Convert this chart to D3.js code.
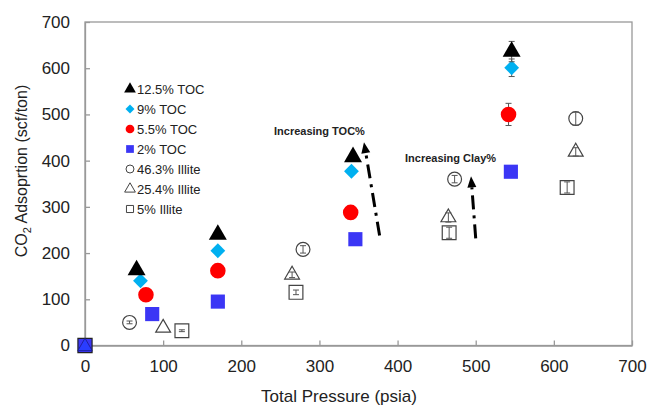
<!DOCTYPE html>
<html>
<head>
<meta charset="utf-8">
<script src="https://cdn.jsdelivr.net/npm/d3@7"></script>
<style>
  body { margin: 0; background: #fff; }
  text { font-family: "Liberation Sans", Arial, sans-serif; fill: #222; }
</style>
</head>
<body>
<svg id="chart" width="649" height="406"></svg>
<script>
// pressure (psia) / adsorption (scf/ton) per sample
var toc125X = [0, 66, 170, 343, 546];
var toc125Y = [0, 163, 240, 408, 636];
var toc125Err = [0, 0, 0, 0, 22];
var toc9X = [71, 170, 341, 546];
var toc9Y = [140, 205, 377, 601];
var toc9Err = [0, 0, 0, 19];
var toc55X = [78, 170, 340, 542];
var toc55Y = [110, 162, 288, 500];
var toc55Err = [0, 0, 0, 24];
var toc2X = [0, 86, 170, 346, 545];
var toc2Y = [0, 68, 95, 230, 376];
var illite463X = [57, 279, 473, 628];
var illite463Y = [50, 208, 360, 491];
var illite463Err = [3, 8, 8, 14];
var illite254X = [100, 265, 465, 628];
var illite254Y = [38, 153, 277, 419];
var illite254Err = [0, 6, 10, 9];
var illite5X = [124, 270, 466, 617];
var illite5Y = [32, 115, 244, 342];
var illite5Err = [2, 5, 12, 12];

var xTicks = [0, 100, 200, 300, 400, 500, 600, 700];
var yTicks = [0, 100, 200, 300, 400, 500, 600, 700];

// arrows: [x1, y1, x2, y2] in data units, tail to head
var tocArrow = [377, 238, 357, 440];
var clayArrow = [500, 232, 494, 366];

var svg = d3.select("#chart");
var x = d3.scaleLinear().domain([0, 700]).range([85, 632]);
var y = d3.scaleLinear().domain([0, 700]).range([345.5, 22]);

// square turned 45 degrees, like the spreadsheet diamond marker
var diamond = {
  draw: function(ctx, size) {
    var r = Math.sqrt(size / 2);
    ctx.moveTo(0, -r); ctx.lineTo(r, 0); ctx.lineTo(0, r); ctx.lineTo(-r, 0); ctx.closePath();
  }
};

// frame
svg.append("rect")
    .attr("x", 85).attr("y", 22)
    .attr("width", 547).attr("height", 323.5)
    .attr("fill", "none").attr("stroke", "#999").attr("stroke-width", 1.3);

var xAxis = svg.append("g").attr("transform", "translate(0,345.5)")
    .call(d3.axisBottom(x).tickValues(xTicks).tickSizeInner(-5).tickSizeOuter(0).tickPadding(14));
var yAxis = svg.append("g").attr("transform", "translate(85,0)")
    .call(d3.axisLeft(y).tickValues(yTicks).tickSizeInner(-5).tickSizeOuter(0).tickPadding(15));
[xAxis, yAxis].forEach(function(a) {
  a.select(".domain").attr("stroke", "#999").attr("stroke-width", 1.3);
  a.selectAll(".tick line").attr("stroke", "#999").attr("stroke-width", 1.3);
  a.selectAll(".tick text").attr("font-size", 17).attr("fill", "#222")
    .attr("font-family", "Liberation Sans, Arial, sans-serif");
});

svg.append("text").attr("x", 339).attr("y", 402)
    .attr("text-anchor", "middle").attr("font-size", 17)
    .text("Total Pressure (psia)");

var yt = svg.append("text")
    .attr("transform", "translate(27,171) rotate(-90)")
    .attr("text-anchor", "middle").attr("font-size", 16);
yt.append("tspan").text("CO");
yt.append("tspan").attr("font-size", 11).attr("dy", 4).text("2");
yt.append("tspan").attr("dy", -4).text(" Adsoprtion (scf/ton)");

function zip(xs, ys, es) {
  return xs.map(function(v, i) { return { x: v, y: ys[i], e: es ? es[i] : 0 }; });
}

var series = [
  { name: "5% Illite", data: zip(illite5X, illite5Y, illite5Err), shape: d3.symbolSquare, size: 190, fill: "#fff", stroke: "#444", sw: 1.2 },
  { name: "25.4% Illite", data: zip(illite254X, illite254Y, illite254Err), shape: d3.symbolTriangle, size: 95, fill: "#fff", stroke: "#444", sw: 1.2 },
  { name: "46.3% Illite", data: zip(illite463X, illite463Y, illite463Err), shape: d3.symbolCircle, size: 150, fill: "#fff", stroke: "#444", sw: 1.2 },
  { name: "2% TOC", data: zip(toc2X, toc2Y), shape: d3.symbolSquare, size: 200, fill: "#3b36f5", stroke: "none", sw: 0 },
  { name: "5.5% TOC", data: zip(toc55X, toc55Y, toc55Err), shape: d3.symbolCircle, size: 190, fill: "#ff0000", stroke: "none", sw: 0 },
  { name: "9% TOC", data: zip(toc9X, toc9Y, toc9Err), shape: diamond, size: 110, fill: "#00b0f0", stroke: "none", sw: 0 },
  { name: "12.5% TOC", data: zip(toc125X, toc125Y, toc125Err), shape: d3.symbolTriangle, size: 140, fill: "#000", stroke: "none", sw: 0 }
];

series.forEach(function(s) {
  var g = svg.append("g");
  var pts = s.data.filter(function(d) { return d.x > 0; });
  var m = g.selectAll(".m").data(pts).enter().append("path")
      .attr("transform", function(d) { return "translate(" + x(d.x) + "," + y(d.y) + ")"; })
      .attr("d", d3.symbol().type(s.shape).size(s.size))
      .attr("fill", s.fill).attr("stroke", s.stroke).attr("stroke-width", s.sw);
  var eb = g.selectAll(".eb").data(pts.filter(function(d) { return d.e > 0; })).enter().append("g");
  eb.append("line")
      .attr("x1", function(d) { return x(d.x); }).attr("x2", function(d) { return x(d.x); })
      .attr("y1", function(d) { return y(d.y - d.e); }).attr("y2", function(d) { return y(d.y + d.e); })
      .attr("stroke", "#555").attr("stroke-width", 1);
  [-1, 1].forEach(function(sg) {
    eb.append("line")
        .attr("x1", function(d) { return x(d.x) - 3; }).attr("x2", function(d) { return x(d.x) + 3; })
        .attr("y1", function(d) { return y(d.y + sg * d.e); }).attr("y2", function(d) { return y(d.y + sg * d.e); })
        .attr("stroke", "#555").attr("stroke-width", 1);
  });
  // filled markers sit over their error bars
  if (s.fill !== "#fff") m.raise();
});

// stacked markers at the origin
svg.append("path")
    .attr("transform", "translate(" + x(0) + "," + y(0) + ")")
    .attr("d", d3.symbol().type(d3.symbolSquare).size(200))
    .attr("fill", "#3b36f5").attr("stroke", "#222").attr("stroke-width", 1.2);
svg.append("path")
    .attr("transform", "translate(" + x(0) + "," + (y(0) + 1) + ")")
    .attr("d", d3.symbol().type(d3.symbolTriangle).size(90))
    .attr("fill", "#2a3dff").attr("stroke", "#1a1a8a").attr("stroke-width", 0.8);

// legend
var legend = svg.append("g").attr("transform", "translate(130,89)");
series.slice().reverse().forEach(function(s, i) {
  var row = legend.append("g").attr("transform", "translate(0," + (i * 20) + ")");
  row.append("path")
      .attr("d", d3.symbol().type(s.shape).size(s.shape === diamond ? 40 : (s.fill === "#fff" ? 50 : 60)))
      .attr("fill", s.fill).attr("stroke", s.stroke).attr("stroke-width", 1);
  row.append("text").attr("x", 7).attr("y", 5)
      .attr("font-size", 13).text(s.name);
});

// arrows
function arrow(a, label, lx, ly) {
  var x1 = x(a[0]), y1 = y(a[1]), x2 = x(a[2]), y2 = y(a[3]);
  var ang = Math.atan2(y2 - y1, x2 - x1);
  var hl = 11;
  var bx = x2 - hl * Math.cos(ang), by = y2 - hl * Math.sin(ang);
  svg.append("line")
      .attr("x1", x1).attr("y1", y1).attr("x2", bx).attr("y2", by)
      .attr("stroke", "#000").attr("stroke-width", 3)
      .attr("stroke-dasharray", "14,6,3,6");
  var px = -Math.sin(ang) * 4.5, py = Math.cos(ang) * 4.5;
  svg.append("path")
      .attr("d", "M" + x2 + "," + y2 + "L" + (bx + px) + "," + (by + py) + "L" + (bx - px) + "," + (by - py) + "Z")
      .attr("fill", "#000");
  svg.append("text").attr("x", lx).attr("y", ly)
      .attr("font-size", 11).attr("font-weight", "bold").text(label);
}
arrow(tocArrow, "Increasing TOC%", 274, 135);
arrow(clayArrow, "Increasing Clay%", 405, 162);
</script>
</body>
</html>
